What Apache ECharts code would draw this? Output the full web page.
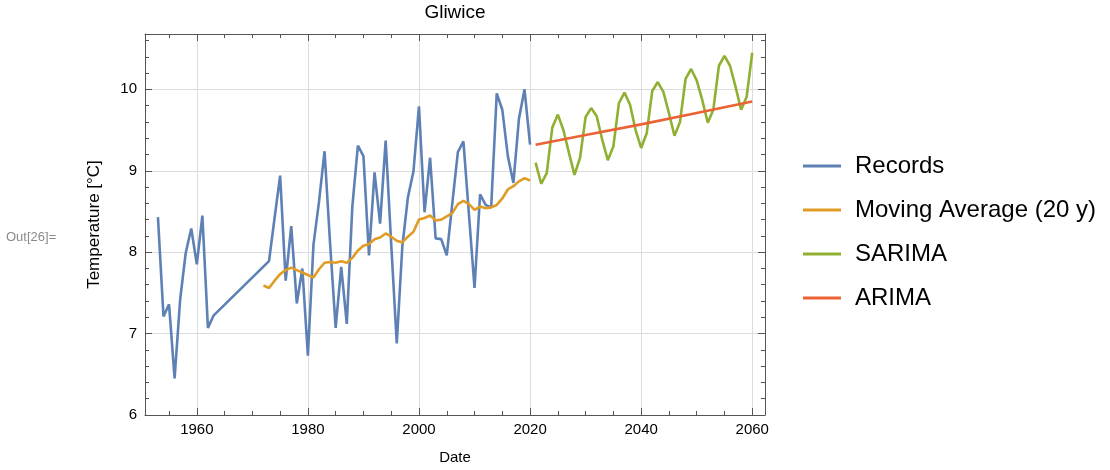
<!DOCTYPE html>
<html>
<head>
<meta charset="utf-8">
<script src="https://cdn.jsdelivr.net/npm/echarts@6/dist/echarts.min.js"></script>
<style>
  html, body { margin: 0; padding: 0; background: #fff; }
  #chart { width: 1110px; height: 470px; }
</style>
</head>
<body>
<div id="chart"></div>
<script>
// 原始记录（1964-1972 无数据）
const recordYears = [1953, 1954, 1955, 1956, 1957, 1958, 1959, 1960, 1961, 1962, 1963,
  1973, 1974, 1975, 1976, 1977, 1978, 1979, 1980, 1981, 1982, 1983, 1984, 1985, 1986, 1987,
  1988, 1989, 1990, 1991, 1992, 1993, 1994, 1995, 1996, 1997, 1998, 1999, 2000, 2001, 2002,
  2003, 2004, 2005, 2006, 2007, 2008, 2009, 2010, 2011, 2012, 2013, 2014, 2015, 2016, 2017,
  2018, 2019, 2020]
const recordTemps = [8.43, 7.21, 7.36, 6.45, 7.42, 7.99, 8.29, 7.85, 8.45, 7.07, 7.22,
  7.89, 8.42, 8.94, 7.65, 8.32, 7.37, 7.80, 6.73, 8.09, 8.62, 9.24, 8.10, 7.07, 7.82, 7.12,
  8.56, 9.31, 9.18, 7.96, 8.98, 8.35, 9.37, 8.10, 6.88, 8.07, 8.67, 8.99, 9.79, 8.49, 9.16,
  8.17, 8.16, 7.96, 8.60, 9.23, 9.36, 8.46, 7.56, 8.71, 8.58, 8.55, 9.95, 9.75, 9.18, 8.85,
  9.64, 10.00, 9.32]

// 20年滑动平均
const avgYears = [1972, 1973, 1974, 1975, 1976, 1977, 1978, 1979, 1980, 1981, 1982, 1983,
  1984, 1985, 1986, 1987, 1988, 1989, 1990, 1991, 1992, 1993, 1994, 1995, 1996, 1997, 1998,
  1999, 2000, 2001, 2002, 2003, 2004, 2005, 2006, 2007, 2008, 2009, 2010, 2011, 2012, 2013,
  2014, 2015, 2016, 2017, 2018, 2019, 2020]
const avgTemps = [7.59, 7.56, 7.65, 7.73, 7.78, 7.81, 7.78, 7.75, 7.72, 7.69, 7.79, 7.87,
  7.88, 7.87, 7.89, 7.87, 7.93, 8.02, 8.08, 8.10, 8.16, 8.18, 8.23, 8.19, 8.14, 8.12, 8.19,
  8.25, 8.40, 8.42, 8.45, 8.39, 8.40, 8.44, 8.48, 8.59, 8.63, 8.59, 8.52, 8.56, 8.54, 8.55,
  8.58, 8.66, 8.77, 8.81, 8.87, 8.91, 8.88]

// SARIMA 预测
const sarimaYears = [2021, 2022, 2023, 2024, 2025, 2026, 2027, 2028, 2029, 2030, 2031, 2032,
  2033, 2034, 2035, 2036, 2037, 2038, 2039, 2040, 2041, 2042, 2043, 2044, 2045, 2046, 2047,
  2048, 2049, 2050, 2051, 2052, 2053, 2054, 2055, 2056, 2057, 2058, 2059, 2060]
const sarimaTemps = [9.10, 8.84, 8.97, 9.53, 9.69, 9.50, 9.22, 8.95, 9.16, 9.66, 9.77, 9.67,
  9.38, 9.13, 9.30, 9.83, 9.96, 9.81, 9.50, 9.28, 9.46, 9.98, 10.09, 9.97, 9.71, 9.43, 9.60,
  10.13, 10.25, 10.11, 9.87, 9.59, 9.75, 10.29, 10.41, 10.29, 10.03, 9.75, 9.91, 10.45]

// ARIMA 预测（直线趋势）
const arimaYears = [2021, 2030, 2040, 2050, 2060]
const arimaTemps = [9.32, 9.44, 9.57, 9.71, 9.85]

// 刻度
const xMajorTicks = [1960, 1980, 2000, 2020, 2040, 2060]
const xMinorTicks = [1955, 1965, 1970, 1975, 1985, 1990, 1995, 2005, 2010, 2015, 2025, 2030,
  2035, 2045, 2050, 2055]
const yMajorTicks = [6, 7, 8, 9, 10]
const yMinorTicks = [6.2, 6.4, 6.6, 6.8, 7.2, 7.4, 7.6, 7.8, 8.2, 8.4, 8.6, 8.8, 9.2, 9.4,
  9.6, 9.8, 10.2, 10.4, 10.6]

const font = '"Liberation Sans", Arial, sans-serif'
const frameColor = '#555'
const gridColor = '#dcdcdc'
const X_MIN = 1950.67
const X_MAX = 2062.3
const Y_MIN = 6
const Y_MAX = 10.68

/**
 * 生成一条框线/刻度轴
 */
function makeAxis(dim, position, ticks, tickLen, opts) {
  const o = opts || {}
  return {
    type: 'value',
    position: position,
    min: dim === 'x' ? X_MIN : Y_MIN,
    max: dim === 'x' ? X_MAX : Y_MAX,
    axisLine: { show: !!o.line, lineStyle: { color: frameColor, width: 1 } },
    axisTick: {
      show: true,
      inside: true,
      length: tickLen,
      customValues: ticks,
      lineStyle: { color: frameColor, width: 1 },
    },
    axisLabel: {
      show: !!o.label,
      customValues: ticks,
      formatter: (v) => String(v),
      color: '#000',
      fontFamily: font,
      fontSize: 15,
      margin: dim === 'x' ? 7 : 8,
    },
    splitLine: { show: !!o.grid, lineStyle: { color: gridColor, width: 1 } },
    axisPointer: { show: false },
  }
}

const toPairs = (xs, ys) => xs.map((x, i) => [x, ys[i]])

const xBottom = makeAxis('x', 'bottom', xMajorTicks, 7, { line: true, label: true, grid: true })
xBottom.name = 'Date'
xBottom.nameLocation = 'middle'
xBottom.nameGap = 35
xBottom.nameTextStyle = { color: '#000', fontFamily: font, fontSize: 15 }

const yLeft = makeAxis('y', 'left', yMajorTicks, 7, { line: true, label: true, grid: true })
yLeft.name = 'Temperature [°C]'
yLeft.nameLocation = 'middle'
yLeft.nameGap = 42
yLeft.nameTextStyle = { color: '#000', fontFamily: font, fontSize: 17 }

const lineSeries = (name, xs, ys, color) => ({
  name: name,
  type: 'line',
  xAxisIndex: 0,
  yAxisIndex: 0,
  data: toPairs(xs, ys),
  symbol: 'none',
  color: color,
  lineStyle: { color: color, width: 2.6 },
  z: 5,
})

const chart = echarts.init(document.getElementById('chart'))

const option = {
  animation: false,
  backgroundColor: '#fff',
  grid: { left: 145, right: 345, top: 34, bottom: 53 },
  xAxis: [
    xBottom,
    makeAxis('x', 'bottom', xMinorTicks, 4),
    makeAxis('x', 'top', xMajorTicks, 7, { line: true }),
    makeAxis('x', 'top', xMinorTicks, 4),
  ],
  yAxis: [
    yLeft,
    makeAxis('y', 'left', yMinorTicks, 4),
    makeAxis('y', 'right', yMajorTicks, 7, { line: true }),
    makeAxis('y', 'right', yMinorTicks, 4),
  ],
  legend: {
    orient: 'vertical',
    left: 798,
    top: 149,
    icon: 'rect',
    itemWidth: 38,
    itemHeight: 3,
    itemGap: 20,
    textStyle: { color: '#000', fontFamily: font, fontSize: 24, lineHeight: 24, padding: [0, 0, 0, 9] },
    data: ['Records', 'Moving Average (20 y)', 'SARIMA', 'ARIMA'],
  },
  graphic: [
    {
      type: 'text',
      x: 455,
      y: 13,
      style: { text: 'Gliwice', fill: '#000', font: '19px ' + font, align: 'center', verticalAlign: 'middle' },
    },
    {
      type: 'text',
      left: 6,
      top: 231,
      style: { text: 'Out[26]=', fill: '#8a8a8a', font: '13px ' + font },
    },
  ],
  series: [
    lineSeries('Records', recordYears, recordTemps, '#5E81B5'),
    lineSeries('Moving Average (20 y)', avgYears, avgTemps, '#E09C24'),
    lineSeries('SARIMA', sarimaYears, sarimaTemps, '#8FB032'),
    lineSeries('ARIMA', arimaYears, arimaTemps, '#EB6235'),
  ],
}

option && chart.setOption(option)
</script>
</body>
</html>
